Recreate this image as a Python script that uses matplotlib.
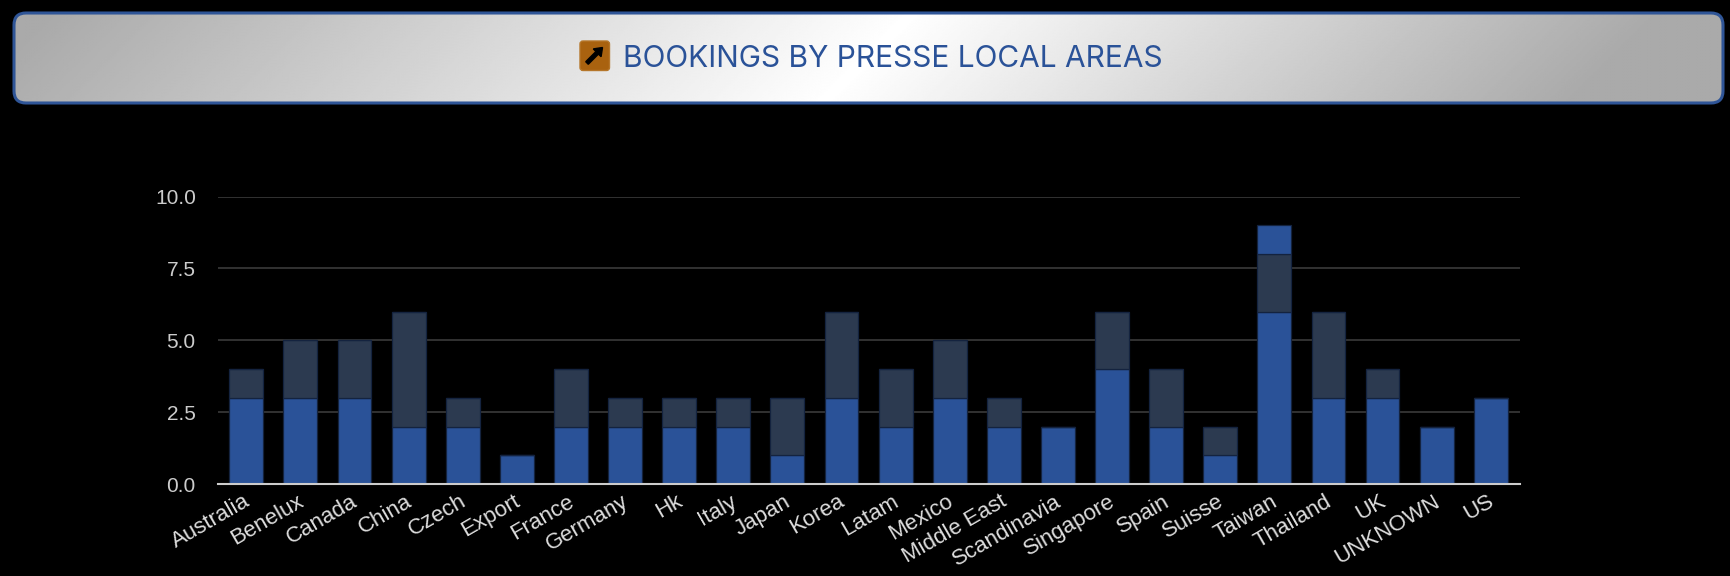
import numpy as np
import matplotlib
matplotlib.use("Agg")
import matplotlib.pyplot as plt
from matplotlib.patches import FancyBboxPatch, FancyArrow
from matplotlib.transforms import ScaledTranslation

areas = ["Australia", "Benelux", "Canada", "China", "Czech", "Export", "France", "Germany", "Hk",
         "Italy", "Japan", "Korea", "Latam", "Mexico", "Middle East", "Scandinavia", "Singapore",
         "Spain", "Suisse", "Taiwan", "Thailand", "UK", "UNKNOWN", "US"]
first = [3, 3, 3, 2, 2, 1, 2, 2, 2, 2, 1, 3, 2, 3, 2, 2, 4, 2, 1, 6, 3, 3, 2, 3]
second = [1, 2, 2, 4, 1, 0, 2, 1, 1, 1, 2, 3, 2, 2, 1, 0, 2, 2, 1, 2, 3, 1, 0, 0]
third = [0, 0, 0, 0, 0, 0, 0, 0, 0, 0, 0, 0, 0, 0, 0, 0, 0, 0, 0, 1, 0, 0, 0, 0]
yticks = [0, 2.5, 5, 7.5, 10]
title = "BOOKINGS BY PRESSE LOCAL AREAS"

W, H = 1731, 576
BLUE, SLATE, EDGE = "#2a5298", "#2c3a50", "#14233f"
fig = plt.figure(figsize=(W / 100, H / 100), dpi=100, facecolor="black")

# Header banner, laid out in pixels
bg = fig.add_axes([0, 0, 1, 1], zorder=0)
bg.set_xlim(0, W)
bg.set_ylim(H, 0)
bg.axis("off")
x0, x1, y0, y1 = 14, 1723, 13, 103
yy, xx = np.mgrid[y0:y1:120j, x0:x1:900j]
t = (xx - 868) + (yy - (y0 + y1) / 2)
reach = np.where(t < 0, 860.0, 745.0)
grad = 1.0 - (1.0 - 0.667) * np.clip(np.abs(t) / reach, 0, 1)
im = bg.imshow(grad, cmap="gray", vmin=0, vmax=1, extent=(x0, x1, y1, y0), aspect="auto", zorder=1)
box = FancyBboxPatch((x0, y0), x1 - x0, y1 - y0, boxstyle="round,pad=0,rounding_size=12",
                     fc="none", ec="#2f5597", lw=2.2, zorder=2)
bg.add_patch(box)
im.set_clip_path(box)
bg.set_xlim(0, W)
bg.set_ylim(H, 0)

icon = FancyBboxPatch((580, 41), 29.5, 29.5, boxstyle="round,pad=0,rounding_size=3",
                      fc="#a9620f", ec="#b5762a", lw=1, zorder=3)
bg.add_patch(icon)
bg.add_patch(FancyArrow(587, 63, 15.5, -15.5, width=3.6, head_width=11, head_length=7.5,
                        length_includes_head=True, fc="black", ec="black", zorder=4))
bg.text(623.5, 67, title, family="Inter", fontsize=21.5, color="#2a5298",
        ha="left", va="baseline", zorder=4)

# Chart
ax = fig.add_axes([218 / W, 1 - 484 / H, (1520 - 218) / W, (484 - 196.5) / H], zorder=1)
ax.set_facecolor("none")
x = np.arange(len(areas))
f, s, th = map(np.array, (first, second, third))
bw = 0.625
ax.bar(x, f, bw, color=BLUE, edgecolor=EDGE, linewidth=0.9, zorder=3)
ax.bar(x, s, bw, bottom=f, color=SLATE, edgecolor=EDGE, linewidth=0.9, zorder=3)
ax.bar(x, th, bw, bottom=f + s, color=BLUE, edgecolor=EDGE, linewidth=0.9, zorder=3)
ax.set_xlim(-0.523, len(areas) - 1 + 0.54)
ax.set_ylim(0, 10)
ax.set_yticks(yticks)
ax.set_yticklabels([f"{v:.1f}" for v in yticks], family="Liberation Sans", fontsize=15, color="#cccccc")
ax.set_xticks(x)
ax.set_xticklabels(areas, family="Liberation Sans", fontsize=16, color="#dddddd",
                   rotation=30, ha="right", va="top", rotation_mode="anchor")
ax.tick_params(axis="x", length=0, pad=5)
ax.tick_params(axis="y", length=0, pad=16)
shift = ScaledTranslation(-3.5 / 100, 0, fig.dpi_scale_trans)
for lab in ax.get_xticklabels():
    lab.set_transform(lab.get_transform() + shift)
ax.grid(axis="y", color="#3a3a3a", linewidth=1.2, zorder=1)
ax.set_axisbelow(True)
for sp in ("top", "left", "right"):
    ax.spines[sp].set_visible(False)
ax.spines["bottom"].set_color("#cccccc")
ax.spines["bottom"].set_linewidth(1.5)
ax.spines["bottom"].set_zorder(5)

fig.savefig("out.png", dpi=100, facecolor="black")
